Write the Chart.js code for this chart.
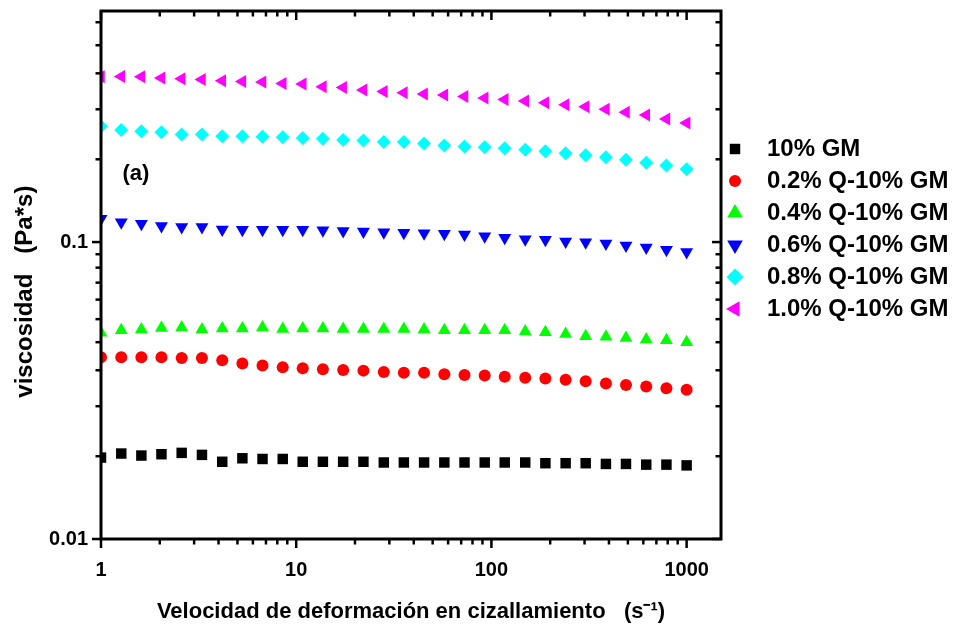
<!DOCTYPE html>
<html>
<head>
<meta charset="utf-8">
<script src="https://cdn.jsdelivr.net/npm/chart.js@4.4.0/dist/chart.umd.min.js"></script>
<style>
  body { margin: 0; background: #fff; }
  canvas { display: block; }
</style>
</head>
<body>
<canvas id="visc" width="954" height="625"></canvas>
<script>
// shear rate (1/s), same 30 points for every sample
const shearRate = [1, 1.27, 1.61, 2.04, 2.59, 3.29, 4.18, 5.30, 6.72, 8.53,
  10.8, 13.7, 17.4, 22.1, 28.1, 35.6, 45.2, 57.4, 72.8, 92.4,
  117, 149, 189, 240, 304, 386, 489, 621, 788, 1000];

// viscosity (Pa*s)
const gm10 = [0.0188, 0.0194, 0.0191, 0.0193, 0.0195, 0.0192, 0.0182, 0.0187, 0.0186, 0.0186,
  0.0182, 0.0182, 0.0182, 0.0182, 0.0181, 0.0181, 0.0181, 0.0181, 0.0181, 0.0181,
  0.0181, 0.0181, 0.0180, 0.0180, 0.0180, 0.0179, 0.0179, 0.0178, 0.0178, 0.0177];
const q02 = [0.0409, 0.0409, 0.0409, 0.0409, 0.0407, 0.0407, 0.0400, 0.0390, 0.0384, 0.0379,
  0.0376, 0.0373, 0.0371, 0.0369, 0.0365, 0.0363, 0.0363, 0.0359, 0.0357, 0.0355,
  0.0352, 0.0349, 0.0347, 0.0344, 0.0340, 0.0334, 0.0330, 0.0326, 0.0322, 0.0318];
const q04 = [0.0495, 0.0505, 0.0508, 0.0514, 0.0516, 0.0508, 0.0512, 0.0512, 0.0516, 0.0510,
  0.0512, 0.0512, 0.0510, 0.0510, 0.0510, 0.0510, 0.0508, 0.0505, 0.0505, 0.0505,
  0.0505, 0.0500, 0.0497, 0.0490, 0.0482, 0.0480, 0.0475, 0.0470, 0.0467, 0.0460];
const q06 = [0.1198, 0.1165, 0.1153, 0.1132, 0.1123, 0.1123, 0.1103, 0.1101, 0.1101, 0.1101,
  0.1101, 0.1095, 0.1089, 0.1086, 0.1080, 0.1075, 0.1070, 0.1067, 0.1061, 0.1047,
  0.1035, 0.1023, 0.1019, 0.1005, 0.0998, 0.0988, 0.0973, 0.0958, 0.0943, 0.0926];
const q08 = [0.2454, 0.2386, 0.2360, 0.2342, 0.2301, 0.2301, 0.2271, 0.2271, 0.2265, 0.2253,
  0.2242, 0.2230, 0.2208, 0.2196, 0.2174, 0.2174, 0.2146, 0.2113, 0.2097, 0.2085,
  0.2069, 0.2044, 0.2022, 0.1991, 0.1960, 0.1930, 0.1892, 0.1848, 0.1810, 0.1759];
const q10 = [0.3605, 0.3613, 0.3605, 0.3568, 0.3549, 0.3530, 0.3494, 0.3475, 0.3459, 0.3422,
  0.3406, 0.3336, 0.3318, 0.3252, 0.3217, 0.3185, 0.3153, 0.3128, 0.3094, 0.3056,
  0.3023, 0.2986, 0.2947, 0.2902, 0.2858, 0.2799, 0.2734, 0.2680, 0.2598, 0.2519];

const seriesNames = ['10% GM', '0.2% Q-10% GM', '0.4% Q-10% GM', '0.6% Q-10% GM', '0.8% Q-10% GM', '1.0% Q-10% GM'];
const seriesValues = [gm10, q02, q04, q06, q08, q10];

const xTickLabels = [1, 10, 100, 1000];
const yTickLabels = [0.01, 0.1];
const xMinorTicks = [2, 3, 4, 5, 6, 7, 8, 9, 20, 30, 40, 50, 60, 70, 80, 90,
  200, 300, 400, 500, 600, 700, 800, 900];
const yMinorTicks = [0.019, 0.028, 0.037, 0.046, 0.055, 0.064, 0.073, 0.082, 0.091,
  0.19, 0.28, 0.37, 0.46, 0.55];

const FONT = "'Liberation Sans', Arial, sans-serif";
Chart.defaults.font.family = FONT;
Chart.defaults.font.weight = 'bold';
Chart.defaults.color = '#000';

const colors = ['#000000', '#ff0000', '#00ff00', '#0000ff', '#00ffff', '#ff00ff'];
const markers = [
  { style: 'rect', rot: 0, r: 7.4 },
  { style: 'circle', rot: 0, r: 6 },
  { style: 'triangle', rot: 0, r: 7.5 },
  { style: 'triangle', rot: 180, r: 7.5 },
  { style: 'rectRot', rot: 0, r: 7 },
  { style: 'triangle', rot: 270, r: 7.5 }
];

// frame with Origin-like ticks: out on left/bottom, in on top/right
const frameTicks = {
  id: 'frameTicks',
  afterDatasetsDraw(chart) {
    const { ctx, chartArea: a, scales: { x, y } } = chart;
    ctx.save();
    ctx.strokeStyle = '#000';
    ctx.lineWidth = 2.5;
    const line = (x1, y1, x2, y2) => { ctx.beginPath(); ctx.moveTo(x1, y1); ctx.lineTo(x2, y2); ctx.stroke(); };
    xTickLabels.map(v => [v, 9]).concat(xMinorTicks.map(v => [v, 5.5])).forEach(([v, len]) => {
      const px = x.getPixelForValue(v);
      line(px, a.bottom, px, a.bottom + len);
      line(px, a.top, px, a.top + len);
    });
    yTickLabels.map(v => [v, 9]).concat(yMinorTicks.map(v => [v, 5.5])).forEach(([v, len]) => {
      const py = y.getPixelForValue(v);
      line(a.left, py, a.left - len, py);
      line(a.right, py, a.right - len, py);
    });
    ctx.lineWidth = 3;
    ctx.strokeRect(a.left, a.top, a.right - a.left, a.bottom - a.top);

    // panel label
    ctx.fillStyle = '#000';
    ctx.font = 'bold 22px ' + FONT;
    ctx.textAlign = 'center';
    ctx.textBaseline = 'middle';
    ctx.fillText('(a)', x.getPixelForValue(1.51), y.getPixelForValue(0.17));
    ctx.restore();
  }
};

const sideLegend = {
  id: 'sideLegend',
  afterDraw(chart) {
    const ctx = chart.ctx;
    ctx.save();
    ctx.font = 'bold 24px ' + FONT;
    ctx.textBaseline = 'middle';
    ctx.textAlign = 'left';
    chart.data.datasets.forEach((ds, i) => {
      const yy = 149 + i * 32;
      ctx.fillStyle = ds.backgroundColor;
      Chart.helpers.drawPoint(ctx, {
        pointStyle: ds.pointStyle, rotation: ds.pointRotation,
        radius: ds.pointStyle === 'rect' || ds.pointStyle === 'circle' ? ds.pointRadius : ds.pointRadius + 1.5,
        borderWidth: 0
      }, 735, yy);
      ctx.fillStyle = '#000';
      ctx.fillText(ds.label, 767, yy);
    });
    ctx.restore();
  }
};

new Chart(document.getElementById('visc'), {
  type: 'scatter',
  data: {
    datasets: seriesValues.map((vals, i) => ({
      label: seriesNames[i],
      data: vals.map((v, k) => ({ x: shearRate[k], y: v })),
      backgroundColor: colors[i],
      borderColor: colors[i],
      pointStyle: markers[i].style,
      pointRotation: markers[i].rot,
      pointRadius: markers[i].r,
      pointBorderWidth: 0,
      showLine: false
    }))
  },
  options: {
    responsive: false,
    animation: false,
    events: [],
    layout: { padding: { top: 11, right: 233, left: 0, bottom: 0 } },
    plugins: {
      legend: { display: false },
      tooltip: { enabled: false }
    },
    scales: {
      x: {
        type: 'logarithmic',
        min: 1,
        max: 1500,
        grid: { display: false, drawTicks: false },
        border: { display: false },
        afterBuildTicks: s => { s.ticks = xTickLabels.map(v => ({ value: v, major: true })); },
        afterFit: s => { s.height = 86; s.paddingLeft = 0; s.paddingRight = 0; },
        ticks: {
          autoSkip: false,
          maxRotation: 0,
          padding: 19,
          font: { size: 20, weight: 'bold' },
          callback: v => String(v)
        },
        title: {
          display: true,
          text: 'Velocidad de deformación en cizallamiento   (s\u207B\u00B9)',
          font: { size: 22, weight: 'bold' },
          padding: { top: 0, bottom: 0 }
        }
      },
      y: {
        type: 'logarithmic',
        min: 0.01,
        max: 0.6,
        grid: { display: false, drawTicks: false },
        border: { display: false },
        afterBuildTicks: s => { s.ticks = yTickLabels.map(v => ({ value: v, major: true })); },
        afterFit: s => { s.width = 101; s.paddingTop = 0; s.paddingBottom = 0; },
        ticks: {
          autoSkip: false,
          padding: 13,
          font: { size: 20, weight: 'bold' },
          callback: v => String(v)
        },
        title: {
          display: true,
          text: 'viscosidad   (Pa*s)     ',
          font: { size: 24, weight: 'bold' },
          padding: { top: 11, bottom: 0 }
        }
      }
    }
  },
  plugins: [frameTicks, sideLegend]
});
</script>
</body>
</html>
